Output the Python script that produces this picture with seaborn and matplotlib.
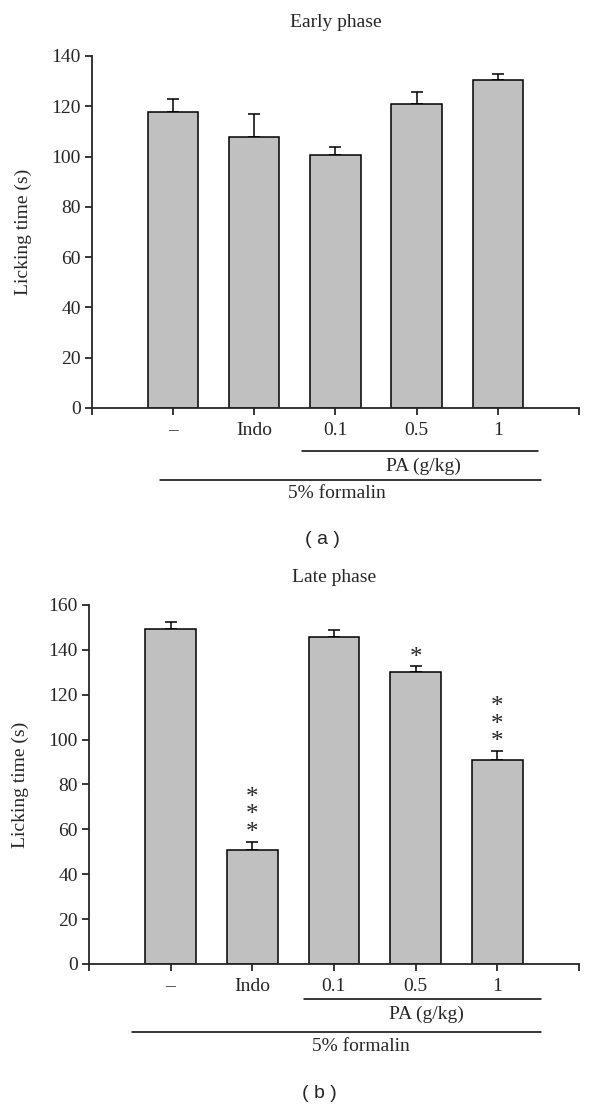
import numpy as np
import pandas as pd
import matplotlib
matplotlib.use("Agg")
import matplotlib.pyplot as plt
import matplotlib.transforms as mtransforms
import seaborn as sns

# data
groups = ["–", "Indo", "0.1", "0.5", "1"]
early_mean = [117.7, 107.9, 100.8, 121.0, 130.6]
early_sem = [5.0, 9.0, 2.8, 4.5, 2.4]
late_mean = [149.1, 50.9, 145.6, 130.1, 91.1]
late_sem = [3.1, 3.6, 3.2, 2.9, 3.9]
late_stars = [0, 3, 0, 1, 3]

sns.set_style("ticks")
plt.rcParams['font.family'] = ['Liberation Serif', 'DejaVu Serif']

fig = plt.figure(figsize=(6, 11.08), dpi=100)
ax_a = fig.add_axes([0.153, 0.6318, 0.812, 0.3177])
ax_b = fig.add_axes([0.148, 0.1300, 0.817, 0.3240])

bar_color = "#c0c0c0"


def draw_panel(ax, means, sems, ymax, title, title_y, lines, stars=None):
    df = pd.DataFrame({"group": groups, "value": means})
    sns.barplot(data=df, x="group", y="value", color=bar_color, width=0.62,
                edgecolor="black", linewidth=1.1, saturation=1, ax=ax, zorder=2)
    xs = np.arange(len(groups))
    ax.errorbar(xs, means, yerr=[np.zeros(len(sems)), sems], fmt="none",
                ecolor="black", elinewidth=1.1, capsize=4.5, capthick=1.1, zorder=1)
    if stars is not None:
        for x, m, s, n in zip(xs, means, sems, stars):
            if n == 0:
                continue
            yc = m + s + 3.5 + 8.2 * (n - 1) / 2
            ax.text(x, yc, "\n".join(["*"] * n), ha="center", va="center",
                    fontsize=18, linespacing=0.74, family=["Liberation Serif"])
    ax.set_xlim(-1, 5)
    ax.set_ylim(0, ymax)
    ax.set_yticks(np.arange(0, ymax + 1, 20))
    ax.set_xticks([-1, 5], minor=True)
    ax.set_xlabel("")
    ax.set_ylabel("Licking time (s)", fontsize=14)
    ax.yaxis.set_label_coords(-0.123, 0.5)
    ax.set_title(title, fontsize=14, y=title_y, va="center")
    for side in ["top", "right"]:
        ax.spines[side].set_visible(False)
    for side in ["left", "bottom"]:
        ax.spines[side].set_linewidth(1.3)
    ax.tick_params(axis="both", which="both", width=1.1, length=5, labelsize=14, color="black")
    ax.tick_params(axis="x", pad=5)
    ax.tick_params(axis="y", pad=3)

    trans = mtransforms.blended_transform_factory(ax.transData, ax.transAxes)
    pa_x0, pa_x1, pa_y, pa_ty, fo_x0, fo_x1, fo_y, fo_ty, fo_tx = lines
    ax.plot([pa_x0, pa_x1], [pa_y, pa_y], color="black", lw=1.1, transform=trans, clip_on=False)
    ax.text((pa_x0 + pa_x1) / 2 + 0.05, pa_ty, "PA (g/kg)", ha="center", va="center",
            fontsize=14, transform=trans)
    ax.plot([fo_x0, fo_x1], [fo_y, fo_y], color="black", lw=1.1, transform=trans, clip_on=False)
    ax.text(fo_tx, fo_ty, "5% formalin", ha="center", va="center", fontsize=14, transform=trans)


draw_panel(ax_a, early_mean, early_sem, 140, "Early phase", 1.07,
           (1.59, 4.49, -0.122, -0.165, -0.16, 4.53, -0.205, -0.244, 2.02))
draw_panel(ax_b, late_mean, late_sem, 160, "Late phase", 1.053,
           (1.64, 4.53, -0.0975, -0.141, -0.47, 4.53, -0.189, -0.231, 2.33),
           stars=late_stars)

fig.text(0.538, 0.5135, "( a )", ha="center", va="center", fontsize=14, family=["Liberation Sans"])
fig.text(0.533, 0.0135, "( b )", ha="center", va="center", fontsize=14, family=["Liberation Sans"])

fig.savefig("out.png", dpi=100)
